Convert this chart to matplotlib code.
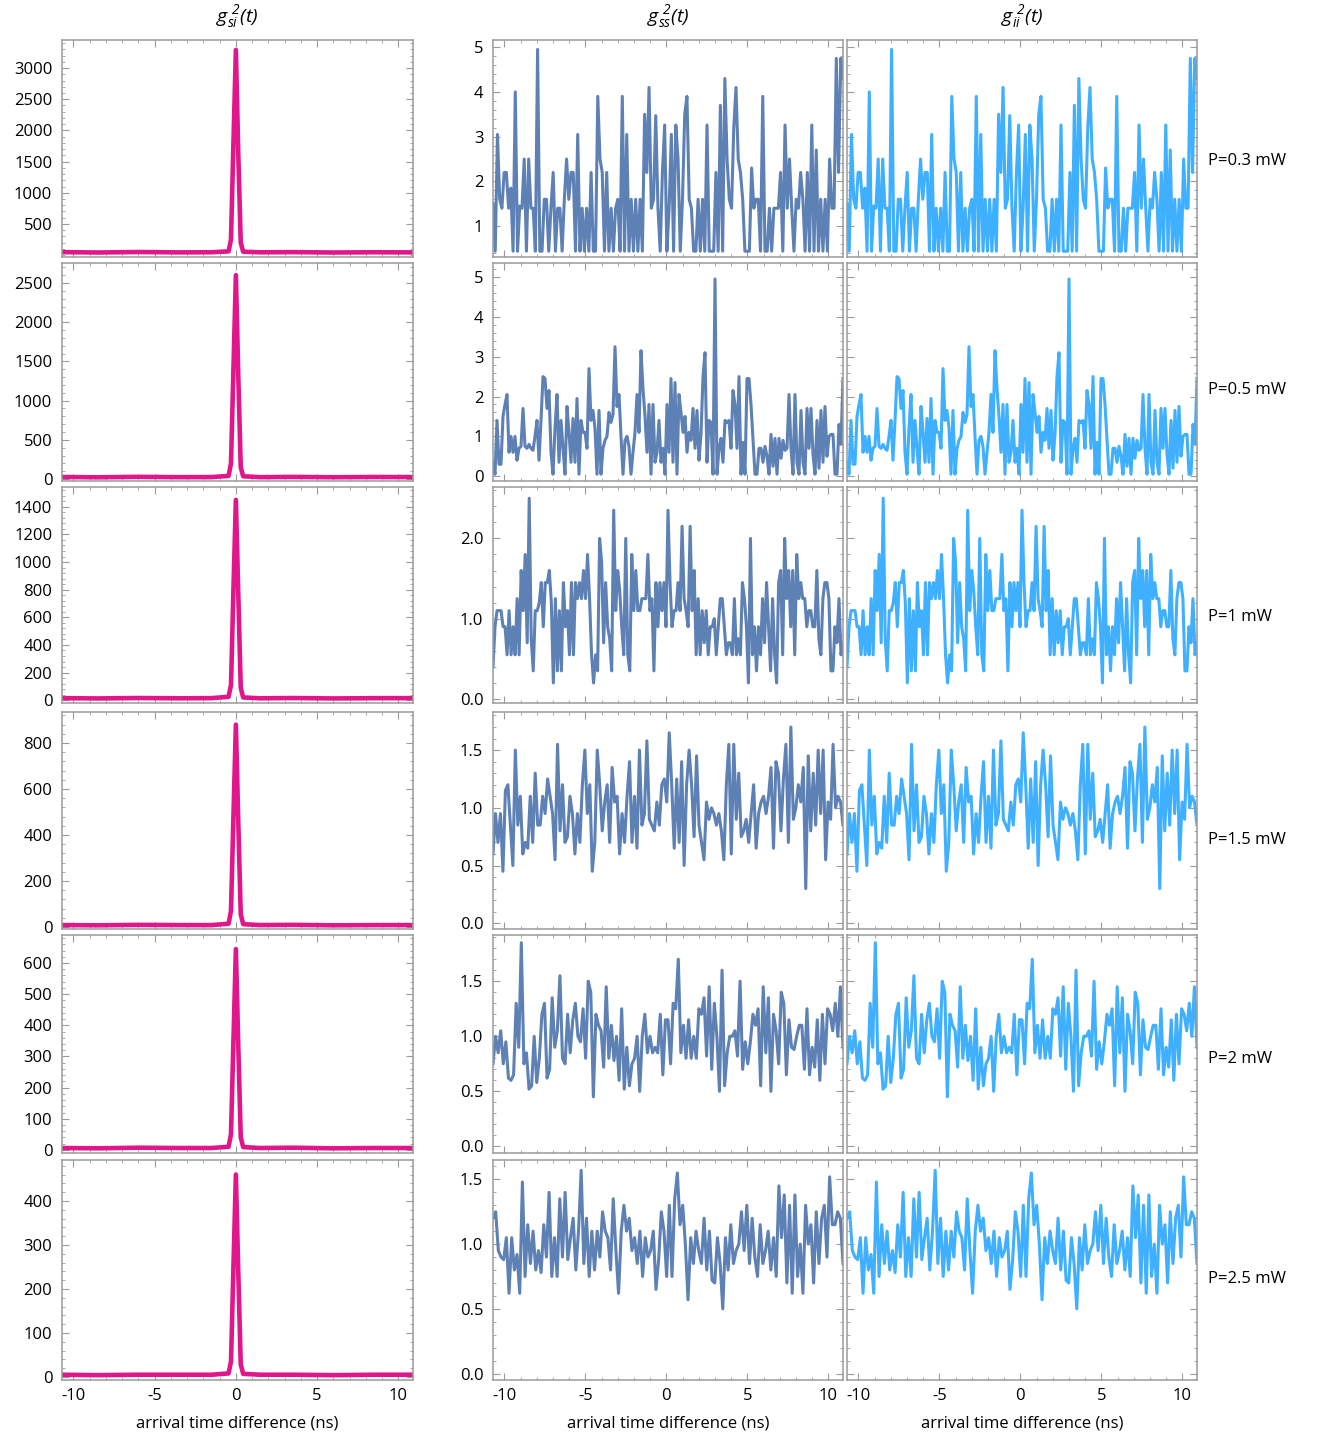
import numpy as np
import matplotlib
matplotlib.use("Agg")
import matplotlib.pyplot as plt
from matplotlib.ticker import AutoMinorLocator, FormatStrFormatter

plt.rcParams['font.family'] = ['Open Sans', 'DejaVu Sans']
plt.rcParams['mathtext.fontset'] = 'custom'
plt.rcParams['mathtext.it'] = 'Open Sans:italic'
plt.rcParams['mathtext.rm'] = 'Open Sans:italic'
plt.rcParams['axes.unicode_minus'] = False

# ---------- data ----------
powers = ["P=0.3 mW", "P=0.5 mW", "P=1 mW", "P=1.5 mW", "P=2 mW", "P=2.5 mW"]

# g_si cross-correlation (time axis and values, one peak per power)
si_t = [-10.7, -8.5, -6.0, -3.5, -1.5, -0.45, -0.3, -0.15, 0.0, 0.15, 0.3, 0.45, 1.5, 3.5, 6.0, 8.5, 10.9]
si_p03 = [48, 42, 50, 44, 46, 60, 250, 1800, 3290, 1600, 200, 55, 45, 48, 42, 46, 44]
si_p05 = [26, 22, 28, 24, 25, 40, 200, 1400, 2600, 1300, 150, 35, 24, 27, 23, 26, 25]
si_p1 = [15, 13, 16, 14, 15, 25, 110, 800, 1450, 760, 90, 20, 14, 16, 13, 15, 15]
si_p15 = [8, 7, 9, 8, 8, 14, 70, 480, 880, 450, 55, 12, 8, 9, 7, 8, 8]
si_p2 = [6, 5, 7, 6, 6, 10, 50, 350, 645, 330, 40, 9, 6, 7, 5, 6, 6]
si_p25 = [5, 4, 5, 5, 5, 8, 35, 250, 460, 235, 28, 7, 5, 5, 4, 5, 5]

# g_ss auto-correlation (signal)
ss_p03 = [1.5, 0.44, 3.05, 1.6, 1.4, 2.2, 2.2, 1.4, 1.85, 0.44, 4.0, 0.44, 1.45, 1.4, 2.5, 0.44,
          2.5, 1.4, 1.4, 0.44, 4.95, 0.44, 0.44, 1.6, 1.6, 0.44, 1.4, 2.2, 0.44, 1.4, 1.4, 0.44,
          1.6, 2.5, 1.6, 2.2, 2.2, 0.44, 3.05, 0.44, 1.4, 0.44, 1.4, 0.44, 2.2, 0.44, 0.44, 3.9,
          2.5, 2.2, 0.44, 2.2, 0.44, 1.4, 0.44, 1.4, 1.6, 0.44, 3.9, 0.44, 3.05, 0.44, 1.6, 0.44,
          1.6, 0.44, 1.6, 0.44, 3.5, 2.2, 4.1, 1.4, 1.6, 3.47, 1.4, 0.44, 2.2, 3.26, 0.44, 1.4,
          3.05, 0.44, 3.26, 2.5, 0.44, 1.6, 3.5, 3.9, 1.6, 1.4, 0.44, 0.44, 1.6, 0.44, 1.6, 0.44,
          3.26, 0.44, 0.44, 0.44, 2.2, 0.44, 3.7, 0.44, 4.3, 2.5, 1.6, 1.4, 3.2, 4.1, 2.5, 2.2,
          1.6, 0.44, 0.44, 0.44, 2.3, 1.4, 1.6, 1.6, 0.44, 3.9, 0.44, 0.44, 1.4, 0.44, 1.4, 1.4,
          1.4, 2.2, 0.44, 3.26, 1.4, 2.5, 1.4, 0.44, 1.6, 1.4, 2.2, 1.6, 0.44, 2.2, 0.44, 3.26,
          0.44, 2.7, 0.44, 1.6, 0.44, 1.6, 0.44, 2.5, 1.4, 1.4, 4.75, 2.2, 4.75, 4.3]
ss_p05 = [0.35, 0.05, 1.4, 0.3, 0.3, 1.5, 1.8, 2.05, 0.6, 1.0, 0.6, 1.0, 0.4, 0.7, 0.75, 1.7,
          0.75, 0.7, 0.8, 0.7, 0.65, 1.0, 1.4, 0.4, 1.4, 2.5, 2.45, 1.7, 2.15, 0.6, 0.05, 1.2,
          2.05, 0.35, 1.4, 0.7, 0.05, 1.75, 1.1, 0.35, 1.45, 0.35, 1.95, 0.05, 1.4, 1.1, 1.1, 0.7,
          2.7, 1.4, 1.65, 1.2, 0.05, 1.65, 0.05, 0.7, 0.9, 1.0, 1.6, 1.35, 1.55, 3.25, 1.75, 2.05,
          1.0, 0.05, 0.9, 1.0, 0.75, 0.05, 0.6, 1.1, 2.05, 1.1, 3.15, 2.2, 1.5, 0.6, 1.8, 0.05,
          1.8, 0.35, 0.6, 1.4, 0.35, 0.7, 0.05, 1.8, 0.6, 2.45, 0.35, 2.35, 0.05, 2.05, 1.6, 1.1,
          1.5, 0.6, 1.1, 0.9, 1.7, 0.7, 1.65, 0.4, 1.05, 2.5, 3.1, 0.35, 1.4, 1.35, 0.05, 4.95,
          0.05, 0.7, 0.95, 0.35, 1.4, 1.35, 1.4, 0.7, 2.15, 1.8, 0.7, 2.5, 0.05, 0.85, 0.05, 2.45,
          2.45, 1.8, 0.9, 0.05, 0.05, 0.7, 0.7, 0.35, 0.75, 0.5, 0.05, 1.05, 0.25, 0.95, 0.05, 0.95,
          0.45, 0.9, 0.65, 0.7, 2.05, 0.7, 0.05, 2.05, 0.35, 0.05, 1.65, 0.35, 0.05, 1.7, 0.7, 1.7,
          0.55, 0.05, 1.4, 0.2, 1.65, 0.35, 1.75, 0.5, 1.0, 1.05, 1.05, 0.05, 0.05, 1.3, 0.8, 2.45]
ss_p1 = [0.4, 0.9, 1.1, 1.1, 1.1, 0.9, 0.9, 0.55, 1.1, 0.55, 0.9, 0.55, 1.25, 0.55, 1.6, 1.1,
         1.8, 0.7, 2.5, 0.75, 0.35, 1.1, 1.1, 1.2, 1.45, 0.9, 1.45, 1.45, 1.6, 1.2, 0.2, 1.25,
         0.35, 1.1, 0.35, 1.45, 0.9, 1.1, 0.55, 1.45, 0.55, 1.45, 1.25, 1.45, 1.25, 1.6, 1.25, 1.8,
         1.25, 0.55, 0.2, 0.55, 0.35, 2.0, 1.7, 0.7, 1.45, 0.9, 0.75, 0.35, 2.35, 1.1, 1.6, 1.35,
         0.9, 0.55, 2.0, 0.55, 0.35, 1.8, 1.1, 1.6, 1.1, 1.1, 1.25, 1.25, 1.25, 1.8, 1.1, 1.25,
         0.35, 1.45, 0.9, 1.45, 1.1, 1.45, 0.9, 2.35, 1.45, 0.9, 1.1, 1.1, 1.45, 1.1, 2.15, 1.25,
         1.1, 0.9, 2.15, 1.1, 1.6, 0.55, 1.25, 0.55, 1.1, 0.7, 1.1, 0.55, 0.9, 0.9, 1.0, 0.55,
         0.9, 1.25, 1.25, 0.9, 0.55, 0.7, 0.7, 0.55, 1.25, 0.55, 0.75, 0.55, 1.45, 1.25, 0.9, 0.2,
         2.0, 0.55, 0.9, 0.35, 0.9, 0.55, 1.25, 0.7, 1.45, 0.9, 0.35, 1.25, 0.55, 0.2, 1.45, 1.6,
         0.55, 2.0, 1.25, 1.6, 0.9, 1.6, 0.55, 1.8, 1.25, 1.45, 1.25, 1.25, 0.9, 1.1, 1.1, 0.9,
         0.9, 1.6, 0.75, 0.55, 1.25, 1.45, 1.45, 1.25, 0.35, 0.35, 0.9, 0.7, 1.25, 0.55, 0.7]
ss_p15 = [0.6, 0.95, 0.7, 0.95, 0.45, 1.15, 1.2, 0.85, 0.5, 1.5, 0.85, 1.1, 0.6, 0.7, 0.65, 1.1,
          0.7, 1.3, 0.85, 0.85, 1.1, 0.95, 1.25, 1.1, 0.95, 0.55, 1.55, 0.8, 1.2, 0.7, 0.75, 1.1,
          0.95, 0.6, 0.95, 0.7, 1.2, 1.5, 0.95, 1.2, 0.45, 0.7, 1.5, 1.2, 0.8, 1.05, 1.2, 0.7,
          1.35, 1.05, 1.1, 0.6, 0.95, 0.7, 1.1, 1.4, 0.7, 1.1, 0.65, 1.5, 0.85, 0.95, 1.58, 0.9,
          0.85, 0.8, 1.05, 0.85, 1.2, 1.25, 1.05, 1.65, 1.2, 0.65, 1.25, 0.7, 1.4, 0.5, 1.2, 1.5,
          1.2, 0.75, 1.45, 0.85, 0.7, 0.55, 1.05, 0.9, 1.0, 0.95, 0.85, 0.95, 0.8, 0.55, 1.2, 1.55,
          0.6, 1.55, 0.9, 1.3, 0.75, 0.8, 0.9, 0.7, 0.95, 1.2, 0.65, 0.95, 1.05, 1.1, 0.95, 1.1,
          1.35, 0.65, 1.4, 1.3, 0.8, 1.25, 1.55, 0.7, 1.7, 0.9, 1.0, 1.2, 1.05, 1.35, 0.3, 1.45,
          0.8, 1.3, 0.85, 1.5, 0.95, 1.5, 0.55, 1.05, 0.9, 1.55, 1.0, 1.1, 1.05, 0.85]
ss_p2 = [0.75, 1.0, 0.85, 1.05, 0.75, 0.95, 0.62, 0.6, 0.65, 1.3, 0.9, 1.85, 0.75, 0.85, 0.52, 0.55,
         1.0, 0.58, 0.8, 1.2, 1.3, 0.62, 0.7, 1.35, 0.9, 1.05, 1.55, 0.8, 0.75, 1.2, 0.85, 1.15,
         1.3, 1.0, 0.95, 1.25, 0.8, 1.5, 1.4, 0.45, 1.2, 1.1, 1.05, 0.72, 1.45, 0.8, 1.1, 0.78,
         1.0, 0.6, 1.25, 0.52, 0.9, 0.55, 0.75, 0.8, 1.0, 0.5, 1.0, 1.2, 0.85, 1.0, 0.85, 0.9,
         0.85, 1.2, 0.65, 1.15, 1.15, 0.75, 1.3, 1.25, 1.7, 0.85, 1.1, 0.8, 1.15, 0.8, 1.0, 0.8,
         1.25, 1.2, 1.35, 0.82, 1.45, 0.7, 1.3, 1.0, 0.5, 1.6, 0.55, 0.85, 1.0, 1.0, 1.05, 0.82,
         1.5, 0.7, 0.95, 0.75, 0.95, 1.2, 1.1, 1.25, 0.55, 1.45, 0.85, 1.35, 0.5, 1.2, 1.05, 0.75,
         1.4, 1.3, 0.65, 1.15, 0.9, 0.88, 1.0, 1.1, 1.1, 0.7, 1.25, 0.65, 0.9, 0.72, 1.15, 0.6,
         1.2, 0.75, 1.25, 1.2, 1.05, 1.3, 1.0, 1.45, 0.9]
ss_p25 = [1.2, 1.25, 0.95, 0.9, 0.88, 1.05, 0.62, 1.05, 0.8, 0.92, 0.62, 1.48, 0.75, 1.15, 0.85, 1.1,
          0.8, 0.95, 0.78, 1.15, 0.9, 1.4, 0.75, 1.05, 0.75, 1.35, 0.9, 1.4, 0.88, 1.05, 1.2, 0.8,
          1.1, 1.57, 0.85, 1.2, 0.75, 1.1, 0.8, 1.1, 0.9, 1.25, 1.1, 1.05, 0.8, 1.35, 0.95, 0.62,
          1.1, 1.3, 1.1, 1.2, 0.95, 1.05, 0.85, 1.1, 0.75, 1.05, 0.9, 0.95, 1.1, 0.65, 0.88, 1.25,
          1.1, 0.75, 1.3, 0.75, 1.35, 1.55, 1.15, 1.3, 1.0, 0.57, 1.05, 0.85, 1.1, 0.95, 0.85, 1.2,
          0.8, 1.1, 0.72, 0.7, 1.05, 0.85, 0.5, 1.05, 0.8, 1.15, 0.85, 0.95, 1.0, 1.25, 0.95, 1.3,
          0.85, 1.2, 0.9, 0.75, 1.15, 0.85, 0.95, 1.1, 0.8, 1.05, 0.75, 1.45, 1.05, 1.38, 0.7, 1.3,
          0.62, 1.38, 0.75, 1.0, 0.62, 1.3, 1.0, 1.15, 0.7, 1.25, 0.85, 1.2, 1.3, 0.9, 1.52, 1.15,
          1.15, 1.25, 1.2, 0.85]

# g_ii auto-correlation (idler) -- same traces as the signal in the reference
ii_p03, ii_p05, ii_p1, ii_p15, ii_p2, ii_p25 = ss_p03, ss_p05, ss_p1, ss_p15, ss_p2, ss_p25

si_rows = [si_p03, si_p05, si_p1, si_p15, si_p2, si_p25]
ss_rows = [ss_p03, ss_p05, ss_p1, ss_p15, ss_p2, ss_p25]
ii_rows = [ii_p03, ii_p05, ii_p1, ii_p15, ii_p2, ii_p25]

# ---------- layout (pixel boxes) ----------
W, H = 1322, 1439
col_x = [(62, 413), (493, 843), (847, 1197)]
row_y = [(40, 257), (263, 481), (487, 703), (712, 929), (935, 1153), (1160, 1380)]
label_y = [161, 390, 617, 840, 1059, 1279]
XLIM = (-10.7, 10.9)

si_ylim = [(-30, 3450), (-25, 2755), (-20, 1543), (-9, 935), (-10, 690), (-7, 493)]
si_ticks = [np.arange(500, 3001, 500), np.arange(0, 2501, 500), np.arange(0, 1401, 200),
            np.arange(0, 801, 200), np.arange(0, 601, 100), np.arange(0, 401, 100)]
g_ylim = [(0.31, 5.16), (-0.12, 5.35), (-0.05, 2.64), (-0.05, 1.83), (-0.06, 1.92), (-0.05, 1.65)]
g_ticks = [[1, 2, 3, 4, 5], [0, 1, 2, 3, 4, 5], [0.0, 1.0, 2.0],
           [0.0, 0.5, 1.0, 1.5], [0.0, 0.5, 1.0, 1.5], [0.0, 0.5, 1.0, 1.5]]
g_fmt = ['%d', '%d', '%.1f', '%.1f', '%.1f', '%.1f']

PINK = '#E0168A'
DARK = '#5E81B5'
LIGHT = '#3FB0FF'
FRAME = '#9a9a9a'


def rect(x0, x1, y0, y1):
    return [x0 / W, 1 - y1 / H, (x1 - x0) / W, (y1 - y0) / H]


def style(ax, bottom_labels, left_labels):
    ax.set_xlim(*XLIM)
    ax.set_xticks([-10, -5, 0, 5, 10])
    ax.xaxis.set_minor_locator(AutoMinorLocator(5))
    ax.yaxis.set_minor_locator(AutoMinorLocator(5))
    ax.tick_params(which='both', direction='in', top=True, right=True, color=FRAME,
                   labelsize=12, labelbottom=bottom_labels, labelleft=left_labels)
    ax.tick_params(which='major', length=5, width=0.8)
    ax.tick_params(which='minor', length=2.5, width=0.6)
    ax.tick_params(axis='y', pad=7)
    ax.tick_params(axis='x', pad=6)
    for s in ax.spines.values():
        s.set_color(FRAME)
        s.set_linewidth(1.1)


fig = plt.figure(figsize=(W / 100, H / 100), dpi=100)

for r in range(6):
    y0, y1 = row_y[r]
    last = r == 5

    ax = fig.add_axes(rect(*col_x[0], y0, y1))
    ax.plot(si_t, si_rows[r], color=PINK, lw=3.3)
    ax.set_ylim(*si_ylim[r])
    ax.set_yticks(si_ticks[r])
    style(ax, last, True)

    for c, (data, color) in enumerate([(ss_rows[r], DARK), (ii_rows[r], LIGHT)], start=1):
        ax = fig.add_axes(rect(*col_x[c], y0, y1))
        t = np.linspace(XLIM[0], XLIM[1], len(data))
        ax.plot(t, data, color=color, lw=2.2)
        ax.set_ylim(*g_ylim[r])
        ax.set_yticks(g_ticks[r])
        ax.yaxis.set_major_formatter(FormatStrFormatter(g_fmt[r]))
        style(ax, last, c == 1)

    fig.text(1208 / W, 1 - label_y[r] / H, powers[r], fontsize=12, ha='left', va='center')

titles = [r'$g_{si}^{\ 2}(t)$', r'$g_{ss}^{\ 2}(t)$', r'$g_{ii}^{\ 2}(t)$']
for (x0, x1), ttl in zip(col_x, titles):
    cx = (x0 + x1) / 2
    fig.text(cx / W, 1 - 17 / H, ttl, fontsize=14, ha='center', va='center')
    fig.text(cx / W, 1 - 1424 / H, 'arrival time difference (ns)', fontsize=12,
             ha='center', va='center')

fig.savefig('out.png', dpi=100)
